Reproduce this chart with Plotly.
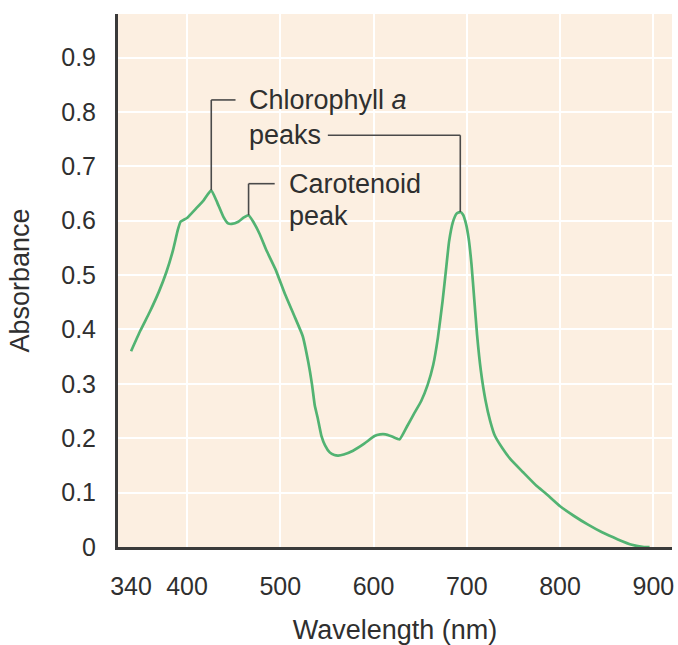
import plotly.graph_objects as go

# ---- data ----
wavelength = [340, 350, 360, 370, 378, 385, 390, 393, 400, 410, 418, 426, 432, 439, 444, 448,
              455, 461, 466, 471, 478, 485, 495, 505, 515, 524, 530, 534, 537, 540, 544, 548,
              553, 558, 562, 568, 578, 590, 601, 607, 613, 620, 628, 636, 643, 651, 658, 664,
              669, 674, 678, 681, 685, 689, 693, 696, 699, 702, 705, 708, 711, 715, 720, 725,
              730, 738, 747, 760, 775, 785, 800, 815, 830, 845, 862, 877, 890, 896]
absorbance = [0.360, 0.398, 0.432, 0.470, 0.506, 0.546, 0.582, 0.598, 0.605, 0.623, 0.638, 0.656,
              0.635, 0.607, 0.595, 0.594, 0.598, 0.606, 0.610, 0.598, 0.575, 0.546, 0.510, 0.465,
              0.425, 0.388, 0.340, 0.299, 0.260, 0.238, 0.205, 0.187, 0.174, 0.169, 0.168, 0.170,
              0.177, 0.190, 0.204, 0.207, 0.207, 0.203, 0.198, 0.222, 0.244, 0.268, 0.298, 0.335,
              0.385, 0.452, 0.515, 0.562, 0.597, 0.613, 0.616, 0.611, 0.595, 0.567, 0.520, 0.455,
              0.390, 0.325, 0.270, 0.232, 0.205, 0.182, 0.161, 0.138, 0.112, 0.098, 0.075, 0.057,
              0.041, 0.027, 0.014, 0.004, 0.0, 0.0]

x_ticks = [340, 400, 500, 600, 700, 800, 900]
x_grid = [400, 500, 600, 700, 800, 900]
y_ticks = [0, 0.1, 0.2, 0.3, 0.4, 0.5, 0.6, 0.7, 0.8, 0.9]
y_tick_labels = ["0", "0.1", "0.2", "0.3", "0.4", "0.5", "0.6", "0.7", "0.8", "0.9"]

# peaks referenced by the labels
chl_peaks = [(426, 0.656), (693, 0.616)]
car_peak = (466, 0.610)

# label geometry (data units)
chl_line1_y = 0.822
chl_line2_y = 0.757
chl_tick_end = 452
chl_text_x = 464
peaks_leader_start = 551
car_line_y = 0.668
car_line2_y = 0.609
car_tick_end = 494
car_text_x = 507

LINE = "#4a4a4a"
TEXT = "#2f2f2f"
FONT = "Liberation Sans, Arial, sans-serif"

fig = go.Figure()
fig.add_trace(go.Scatter(
    x=wavelength, y=absorbance, mode="lines",
    line=dict(color="#52b372", width=2.7, shape="spline", smoothing=0.4),
    hoverinfo="x+y", showlegend=False))

shapes = []
lw = dict(color=LINE, width=1.6)
# Chlorophyll a – blue peak bracket
shapes.append(dict(type="line", xref="x", yref="y", x0=chl_peaks[0][0], x1=chl_peaks[0][0],
                   y0=chl_peaks[0][1], y1=chl_line1_y, line=lw))
shapes.append(dict(type="line", xref="x", yref="y", x0=chl_peaks[0][0], x1=chl_tick_end,
                   y0=chl_line1_y, y1=chl_line1_y, line=lw))
# Chlorophyll a – red peak leader
shapes.append(dict(type="line", xref="x", yref="y", x0=peaks_leader_start, x1=chl_peaks[1][0],
                   y0=chl_line2_y, y1=chl_line2_y, line=lw))
shapes.append(dict(type="line", xref="x", yref="y", x0=chl_peaks[1][0], x1=chl_peaks[1][0],
                   y0=chl_line2_y, y1=chl_peaks[1][1], line=lw))
# Carotenoid bracket
shapes.append(dict(type="line", xref="x", yref="y", x0=car_peak[0], x1=car_peak[0],
                   y0=car_peak[1], y1=car_line_y, line=lw))
shapes.append(dict(type="line", xref="x", yref="y", x0=car_peak[0], x1=car_tick_end,
                   y0=car_line_y, y1=car_line_y, line=lw))

ann_font = dict(family=FONT, size=27, color=TEXT)
annotations = [
    dict(x=chl_text_x, y=chl_line1_y, xref="x", yref="y", text="Chlorophyll <i>a</i>",
         showarrow=False, xanchor="left", yanchor="middle", font=ann_font),
    dict(x=chl_text_x, y=chl_line2_y, xref="x", yref="y", text="peaks",
         showarrow=False, xanchor="left", yanchor="middle", font=ann_font),
    dict(x=car_text_x, y=car_line_y, xref="x", yref="y", text="Carotenoid",
         showarrow=False, xanchor="left", yanchor="middle", font=ann_font),
    dict(x=car_text_x, y=car_line2_y, xref="x", yref="y", text="peak",
         showarrow=False, xanchor="left", yanchor="middle", font=ann_font),
]

fig.update_layout(
    width=678, height=645,
    margin=dict(l=118, r=4, t=14, b=98),
    paper_bgcolor="white",
    plot_bgcolor="#fcefe1",
    font=dict(family=FONT, color=TEXT),
    shapes=shapes,
    annotations=annotations,
    xaxis=dict(
        range=[326, 920], tickmode="array", tickvals=x_ticks,
        ticktext=[str(v) for v in x_ticks],
        showgrid=False, zeroline=False,
        showline=True, linecolor="#3a3a3a", linewidth=3,
        ticks="outside", ticklen=15, tickcolor="rgba(0,0,0,0)",
        tickfont=dict(size=25, color=TEXT),
        minor=dict(tickmode="array", tickvals=x_grid, showgrid=True,
                   gridcolor="white", gridwidth=2, ticks=""),
        title=dict(text="Wavelength (nm)", font=dict(size=27, color=TEXT), standoff=22),
    ),
    yaxis=dict(
        range=[0, 0.98], tickmode="array", tickvals=y_ticks, ticktext=y_tick_labels,
        showgrid=True, gridcolor="white", gridwidth=2, zeroline=False,
        showline=True, linecolor="#3a3a3a", linewidth=3,
        ticks="outside", ticklen=14, tickcolor="rgba(0,0,0,0)",
        tickfont=dict(size=25, color=TEXT),
        title=dict(text="Absorbance", font=dict(size=27, color=TEXT), standoff=24),
    ),
)

fig.write_html("out.html", config={"displayModeBar": False},
               post_script="document.body.style.margin='0px';")
